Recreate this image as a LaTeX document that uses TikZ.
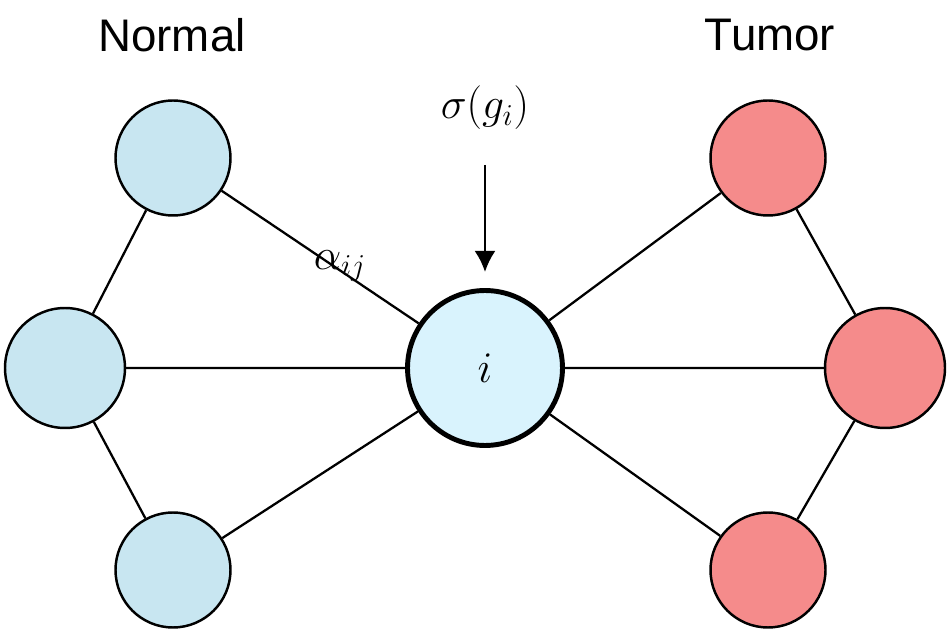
\documentclass[tikz,border=0pt]{standalone}
\usetikzlibrary{arrows.meta}
\usepackage{fontspec}
\newfontfamily\labelfont{Liberation Sans}
\begin{document}
\begin{tikzpicture}[x=0.02cm,y=-0.02cm,
  gene/.style={circle,draw=black,line width=1.4pt,minimum size=2.3cm,inner sep=0pt},
  normal/.style={gene,fill=cyan!20!white!90!gray},
  tumor/.style={gene,fill=red!45!white!92!gray},
  edge/.style={line width=1.3pt}]
\useasboundingbox (0,0) rectangle (950,641);
% Normal side
\node[normal] (n1) at (173,158) {};
\node[normal,minimum size=2.4cm] (n2) at (65,368) {};
\node[normal] (n3) at (173,570) {};
% Tumor side
\node[tumor] (t1) at (768,158) {};
\node[tumor,minimum size=2.4cm] (t2) at (885,368) {};
\node[tumor] (t3) at (768,570) {};
% Centre gene
\node[gene,line width=2.8pt,minimum size=3.1cm,fill=cyan!15!white] (c) at (485,368)
  {\fontsize{34}{38}\selectfont$i$};
% Edges
\draw[edge] (n1) -- (n2) (n2) -- (n3);
\draw[edge] (t1) -- (t2) (t2) -- (t3);
\draw[edge] (n1) -- (c) (n2) -- (c) (n3) -- (c);
\draw[edge] (t1) -- (c) (t2) -- (c) (t3) -- (c);
% Labels
\node (ln) at (172,35) {\labelfont\fontsize{26}{30}\selectfont Normal};
\node (lt) at (770,35) {\labelfont\fontsize{26}{30}\selectfont Tumor};
\node (sg) at (485,108) {\fontsize{26}{30}\selectfont$\sigma(g_i)$};
\node (al) at (340,266) {\fontsize{24}{28}\selectfont$\alpha_{ij}$};
\coordinate (as) at (485,165);
\coordinate (ae) at (485,272);
\draw[-{Latex[length=12pt,width=12pt]},line width=1.5pt] (as) -- (ae);
\end{tikzpicture}
\end{document}
